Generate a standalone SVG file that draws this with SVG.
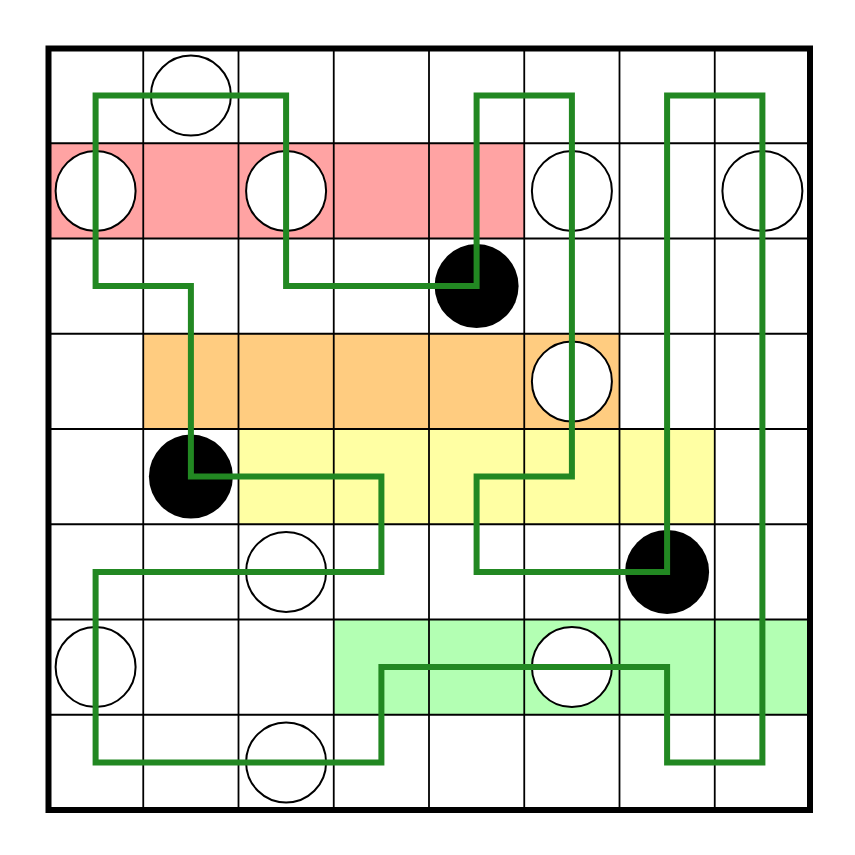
<svg xmlns="http://www.w3.org/2000/svg" width="855" height="855" viewBox="0 0 855 855">
<style>
.grid line{stroke:#000;stroke-width:1.8}
.wc{fill:#fff;stroke:#000;stroke-width:2}
.bc{fill:#000}
.loop{fill:none;stroke:#228822;stroke-width:6;stroke-linejoin:miter;stroke-linecap:square}
</style>
<rect width="855" height="855" fill="#fff"/>
<g id="regions">
<rect x="48" y="143.25" width="476.25" height="95.25" fill="#ffa3a3"/>
<rect x="143.25" y="333.75" width="476.25" height="95.25" fill="#ffcc80"/>
<rect x="238.5" y="429" width="476.25" height="95.25" fill="#ffffa3"/>
<rect x="333.75" y="619.5" width="476.25" height="95.25" fill="#b3ffb3"/>
</g>
<g class="grid" id="grid">
<line x1="143.25" y1="48" x2="143.25" y2="810"/>
<line x1="238.5" y1="48" x2="238.5" y2="810"/>
<line x1="333.75" y1="48" x2="333.75" y2="810"/>
<line x1="429" y1="48" x2="429" y2="810"/>
<line x1="524.25" y1="48" x2="524.25" y2="810"/>
<line x1="619.5" y1="48" x2="619.5" y2="810"/>
<line x1="714.75" y1="48" x2="714.75" y2="810"/>
<line y1="143.25" x1="48" y2="143.25" x2="810"/>
<line y1="238.5" x1="48" y2="238.5" x2="810"/>
<line y1="333.75" x1="48" y2="333.75" x2="810"/>
<line y1="429" x1="48" y2="429" x2="810"/>
<line y1="524.25" x1="48" y2="524.25" x2="810"/>
<line y1="619.5" x1="48" y2="619.5" x2="810"/>
<line y1="714.75" x1="48" y2="714.75" x2="810"/>
</g>
<rect id="border" x="48.5" y="48.5" width="761.5" height="761.5" fill="none" stroke="#000" stroke-width="6"/>
<g id="circles">
<circle class="wc" cx="190.9" cy="95.6" r="40"/>
<circle class="wc" cx="95.6" cy="190.9" r="40"/>
<circle class="wc" cx="286.1" cy="190.9" r="40"/>
<circle class="wc" cx="571.9" cy="190.9" r="40"/>
<circle class="wc" cx="762.4" cy="190.9" r="40"/>
<circle class="wc" cx="571.9" cy="381.4" r="40"/>
<circle class="wc" cx="286.1" cy="571.9" r="40"/>
<circle class="wc" cx="95.6" cy="667.1" r="40"/>
<circle class="wc" cx="571.9" cy="667.1" r="40"/>
<circle class="wc" cx="286.1" cy="762.4" r="40"/>
<circle class="bc" cx="476.6" cy="286.1" r="42"/>
<circle class="bc" cx="190.9" cy="476.6" r="42"/>
<circle class="bc" cx="667.1" cy="571.9" r="42"/>
</g>
<g id="connectors">
<path class="loop" d="M95.6 95.6 H286.1 V286.1 H476.6 V95.6 H571.9 V476.6 H476.6 V571.9 H667.1 V95.6 H762.4 V762.4 H667.1 V667.1 H381.4 V762.4 H95.6 V571.9 H381.4 V476.6 H190.9 V286.1 H95.6 Z"/>
</g>
</svg>
